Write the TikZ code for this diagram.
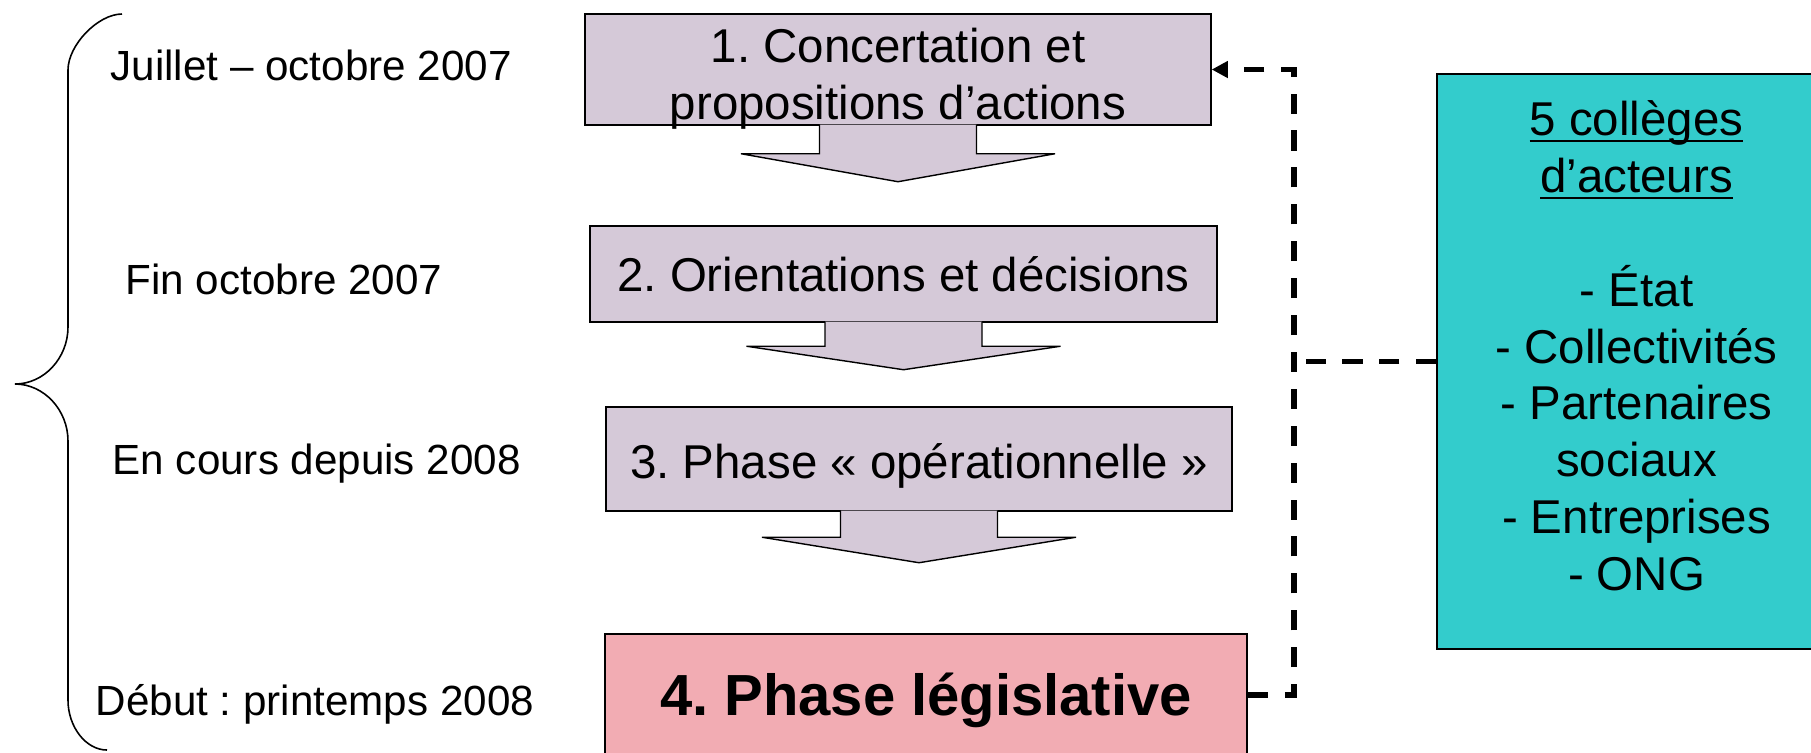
\documentclass[tikz,border=0pt]{standalone}
\usepackage{fontspec}
\setmainfont{Liberation Sans}
\usetikzlibrary{calc}
\usetikzlibrary{positioning}
\usetikzlibrary{arrows.meta}
\definecolor{lilas}{RGB}{213,201,216}
\definecolor{rose}{RGB}{242,172,179}
\definecolor{turquoise}{RGB}{51,204,204}
\frenchspacing
\newsavebox{\boitesoul}
\newcommand{\souligne}[1]{\sbox{\boitesoul}{#1}\rlap{\rule[-0.15em]{\wd\boitesoul}{0.045em}}\usebox{\boitesoul}}
\tikzset{
	phase/.style={
		rectangle,
		draw=black, line width=0.4pt,
		fill=lilas,
		inner sep=0pt,
		text height=1.1em, text depth=0.1em,
		font=\fontsize{13.5}{16.2}\selectfont,
		align=center},
	legis/.style={
		phase,
		fill=rose,
		line width=0.6pt,
		text height=1.25em,
		font=\fontsize{16.5}{19.8}\selectfont\bfseries},
	acteurbox/.style={
		rectangle,
		draw=black, line width=0.4pt,
		fill=turquoise,
		inner sep=0pt,
		font=\fontsize{13.5}{16.2}\selectfont,
		align=center},
	fleche/.style={fill=lilas, draw=black, line width=0.4pt},
	date/.style={anchor=base west, inner sep=0pt, font=\fontsize{12}{14.4}\selectfont},
	lien/.style={draw, line width=1.6pt, dash pattern=on 5.7pt off 4.8pt},
	accolade/.style={draw, line width=0.45pt},
}
\begin{document}
\begin{tikzpicture}[x=1cm, y=-1cm]
	\useasboundingbox (0,0) rectangle (18.11,7.52);
	% les quatre phases
	\node[phase, minimum width=6.26cm, minimum height=1.11cm,
		text height=28.2pt, text depth=0pt] (un) at (8.98,0.695)
		{1. Concertation et\\propositions d’actions};
	\node[phase, minimum width=6.27cm, minimum height=0.96cm] (deux) at (9.035,2.74)
		{2. Orientations et décisions};
	\node[phase, minimum width=6.26cm, minimum height=1.04cm, text height=1.2em] (trois) at (9.19,4.59)
		{3. Phase « opérationnelle »};
	\node[legis, minimum width=6.42cm, minimum height=1.22cm] (quatre) at (9.26,6.95)
		{4. Phase législative};
	% fleches pleines
	\foreach \src/\d in {un/0.28, deux/0.235, trois/0.255}
		\filldraw[fleche] (\src.south) ++(-0.785,-0.01) -- ++(0,\d+0.01) -- ++(-0.785,0)
			-- ++(1.57,\d) -- ++(1.57,-\d) -- ++(-0.785,0) -- ++(0,-\d-0.01);
	% colleges
	\node[acteurbox, minimum width=3.99cm, minimum height=5.75cm, text depth=9.1pt] (acteurs) at (16.365,3.615)
		{\souligne{5 collèges}\\\souligne{d’acteurs}\\[16.2pt]- État\\- Collectivités\\- Partenaires\\sociaux\\- Entreprises\\- ONG};
	\coordinate (rail) at (12.94,0);
	\draw[lien, -{Triangle[length=4.6pt, width=4.6pt]}] (quatre.east) -- (quatre.east -| rail)
		-- (un.east -| rail) -- (un.east);
	\draw[lien] (acteurs.west) -- (acteurs.west -| rail);
	% calendrier
	\draw[accolade] (1.22,0.14) .. controls (0.98,0.14) and (0.68,0.45) .. (0.68,0.70)
		-- (0.68,3.27) .. controls (0.68,3.58) and (0.44,3.84) .. (0.15,3.84)
		.. controls (0.44,3.84) and (0.68,4.10) .. (0.68,4.41)
		-- (0.68,7.00) .. controls (0.68,7.27) and (0.86,7.50) .. (1.07,7.50);
	\node[date] (juillet) at (1.10,0.80) {Juillet – octobre 2007};
	\node[date] (fin) at (1.25,2.94) {Fin octobre 2007};
	\node[date] (encours) at (1.12,4.74) {En cours depuis 2008};
	\node[date] (debut) at (0.95,7.15) {Début : printemps 2008};
\end{tikzpicture}
\end{document}
